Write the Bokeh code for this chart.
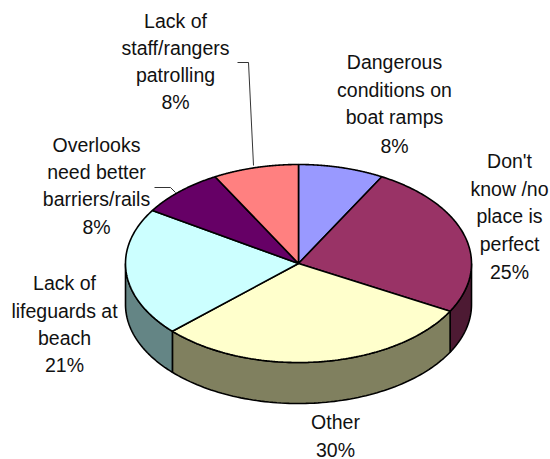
import numpy as np
from bokeh.plotting import figure
from bokeh.models import ColumnDataSource
from bokeh.core.properties import value
from bokeh.embed import file_html
from bokeh.resources import INLINE

categories = ["Dangerous conditions on boat ramps", "Don't know /no place is perfect", "Other",
              "Lack of lifeguards at beach", "Overlooks need better barriers/rails",
              "Lack of staff/rangers patrolling"]
shares = [8, 25, 30, 21, 8, 8]
top_colors = ["#9999FF", "#993366", "#FFFFCC", "#CCFFFF", "#660066", "#FF8080"]
side_colors = ["#4C4C7F", "#4D1A33", "#80805F", "#648585", "#330033", "#7F4040"]

label_lines = [
    (["Dangerous", "conditions on", "boat ramps", "8%"], 394, [61, 89, 116, 145]),
    (["Don't", "know /no", "place is", "perfect", "25%"], 509, [160, 188, 215, 243, 271]),
    (["Other", "30%"], 335, [421, 449]),
    (["Lack of", "lifeguards at", "beach", "21%"], 64, [282, 310, 337, 364]),
    (["Overlooks", "need better", "barriers/rails", "8%"], 96, [144, 171, 198, 226]),
    (["Lack of", "staff/rangers", "patrolling", "8%"], 175, [20, 47, 74, 101]),
]
leaders = [([237, 248, 253], [62, 62, 165]), ([154, 170, 175], [187, 187, 192])]

cx, cy, rx, ry, depth = 298, 263, 173, 99, 41

p = figure(width=550, height=459, x_range=(0, 550), y_range=(459, 0),
           output_backend="svg", toolbar_location=None, min_border=0,
           outline_line_color=None, background_fill_color="white")
p.axis.visible = False
p.grid.visible = False

edges = np.cumsum([0] + shares) / sum(shares) * 2 * np.pi


def ex(t):
    return cx + rx * np.sin(t)


def ey(t):
    return cy - ry * np.cos(t)


# visible rim: the front half of the ellipse, from 90 to 270 degrees
for i in range(len(shares)):
    a, b = max(edges[i], np.pi / 2), min(edges[i + 1], 3 * np.pi / 2)
    if b <= a:
        continue
    t = np.linspace(a, b, 80)
    xs = np.r_[ex(t), ex(t[::-1])]
    ys = np.r_[ey(t), ey(t[::-1]) + depth]
    p.patch(xs, ys, fill_color=side_colors[i], line_color="black", line_width=1.6)

# top face
for i in range(len(shares)):
    t = np.linspace(edges[i], edges[i + 1], 120)
    xs = np.r_[cx, ex(t)]
    ys = np.r_[cy, ey(t)]
    p.patch(xs, ys, fill_color=top_colors[i], line_color="black", line_width=1.6)

for lx, ly in leaders:
    p.line(lx, ly, line_color="black", line_width=0.8)

tx, ty, tt = [], [], []
for lines, x, ys in label_lines:
    for s, y in zip(lines, ys):
        tx.append(x)
        ty.append(y)
        tt.append(s)
src = ColumnDataSource(dict(x=tx, y=ty, text=tt))
p.text("x", "y", text="text", source=src, text_align="center", text_baseline="middle",
       text_font=value("Liberation Sans"), text_font_size="19.5px", text_color="#111111")

open("out.html", "w").write(file_html(p, INLINE))
